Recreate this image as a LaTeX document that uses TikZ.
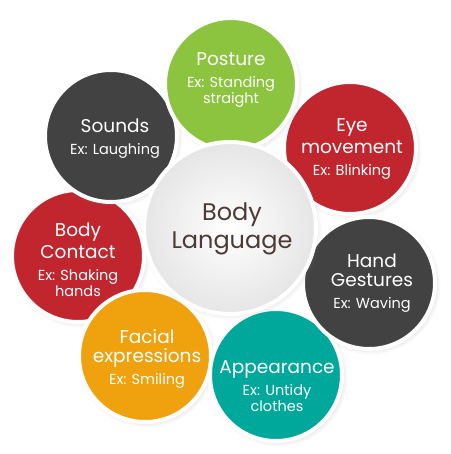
\documentclass[tikz,border=0pt]{standalone}
\usepackage{fontspec}
\setmainfont{Poppins}
\usetikzlibrary{shadows}
\definecolor{cgreen}{HTML}{8CC43F}
\definecolor{cred}{HTML}{C1262E}
\definecolor{cdark}{HTML}{424242}
\definecolor{cteal}{HTML}{00A79B}
\definecolor{corange}{HTML}{EFA20D}
\definecolor{cbrown}{HTML}{4D3A34}
\newcommand{\ttlf}[1]{{\fontsize{18.5}{16}\selectfont #1}}
\tikzset{
  bub/.style={circle, draw=white, line width=4pt, minimum size=132pt, inner sep=0pt,
    circular drop shadow={shadow xshift=1.5pt, shadow yshift=-1.5pt, shadow scale=1.06, opacity=0.3}},
  lbl/.style={align=center, text=white, font=\fontsize{14.5}{16}\selectfont, inner sep=0pt},
}
\begin{document}
\begin{tikzpicture}[x=1pt,y=-1pt]
\useasboundingbox (0,0) rectangle (450,454);
\node[bub, fill=cred]    (contact)  at (78,256)  {};
\node[bub, fill=cdark]   (sounds)   at (111,136) {};
\node[bub, fill=cred]    (eye)      at (350,148) {};
\node[bub, fill=cgreen]  (posture)  at (231,84)  {};
\node[bub, fill=corange] (facial)   at (145,356) {};
\node[bub, fill=cteal]   (appear)   at (276,375) {};
\node[bub, fill=cdark]   (hand)     at (369,283) {};
\node[circle, draw=white, line width=4pt, minimum size=172pt, inner sep=0pt,
  inner color=white, outer color=black!10,
  circular drop shadow={shadow xshift=1.5pt, shadow yshift=-1.5pt, shadow scale=1.05, opacity=0.3}]
  (center) at (230,228) {};
\node[lbl] (posturet) at (231,80) {\ttlf{Posture}\\[6pt] Ex: Standing\\ straight};
\node[lbl] (soundst) at (115,139) {\ttlf{Sounds}\\[6pt] Ex: Laughing};
\node[lbl] (eyet) at (352,149) {\ttlf{Eye}\\[3pt] \ttlf{movement}\\[6pt] Ex: Blinking};
\node[lbl] (contactt) at (78,260) {\ttlf{Body}\\[3pt] \ttlf{Contact}\\[6pt] Ex: Shaking\\ hands};
\node[lbl] (handt) at (372,283) {\ttlf{Hand}\\[3pt] \ttlf{Gestures}\\[6pt] Ex: Waving};
\node[lbl] (appeart) at (277,386) {\ttlf{Appearance}\\[6pt] Ex: Untidy\\ clothes};
\node[lbl] (facialt) at (147,359) {\ttlf{Facial}\\[3pt] \ttlf{expressions}\\[6pt] Ex: Smiling};
\node[align=center, text=cbrown, font=\fontsize{24}{28}\selectfont, inner sep=0pt] (centert) at (232,229) {Body\\ Language};
\end{tikzpicture}
\end{document}
